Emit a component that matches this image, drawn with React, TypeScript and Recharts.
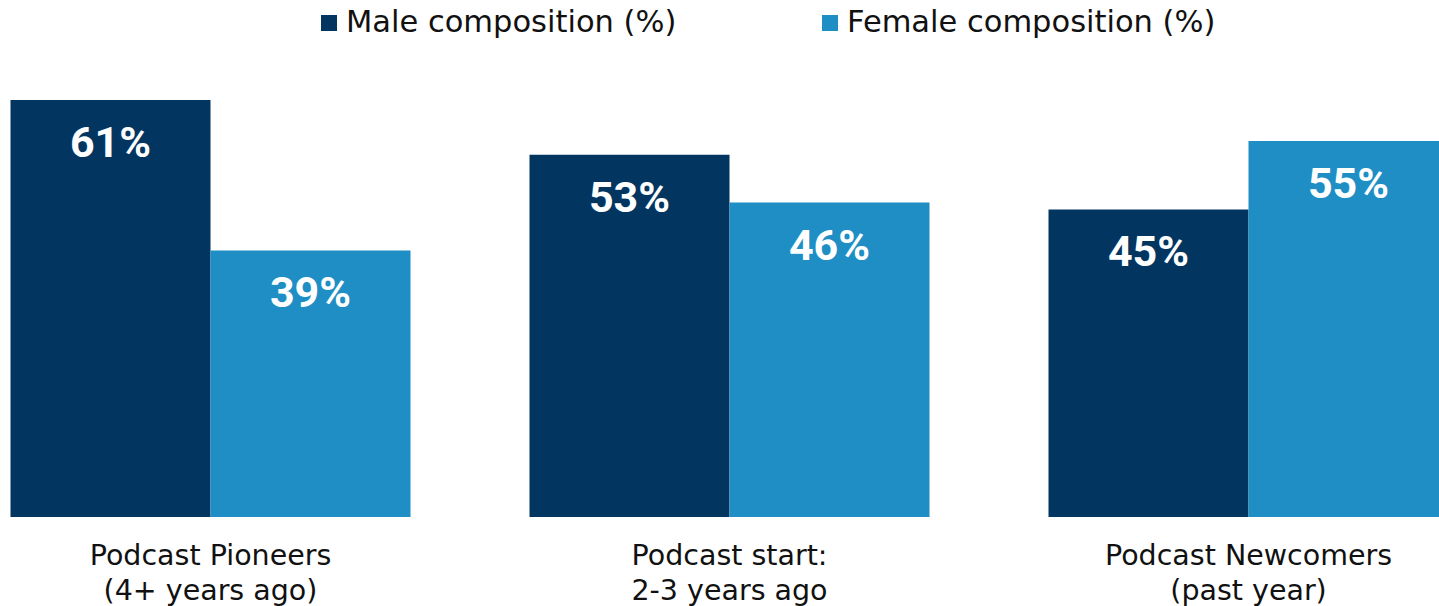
import React from "react";
import { BarChart, Bar, XAxis, YAxis, Legend, LabelList } from "recharts";

const categories = ["Podcast Pioneers\n(4+ years ago)", "Podcast start:\n2-3 years ago", "Podcast Newcomers\n(past year)"];
const maleValues = [61, 53, 45];
const femaleValues = [39, 46, 55];
const seriesNames = ["Male composition (%)", "Female composition (%)"];

const MALE = "#02355F";
const FEMALE = "#1F8EC5";
const FONT = "'DejaVu Sans', sans-serif";

const data = categories.map((c, i) => ({ category: c, male: maleValues[i], female: femaleValues[i] }));

const CategoryTick = (props: any) => {
  const { x, y, payload } = props;
  const lines = String(payload.value).split("\n");
  return (
    <g>
      {lines.map((l, i) => (
        <text key={i} x={x} y={y + 48 + i * 35} textAnchor="middle" fontFamily={FONT} fontSize={28.5} fill="#111">
          {l}
        </text>
      ))}
    </g>
  );
};

const ValueLabel = (props: any) => {
  const { x, y, width, value } = props;
  return (
    <text x={x + width / 2} y={y + 57} textAnchor="middle" fontFamily="Roboto, sans-serif" fontWeight={700} fontSize={43} fill="#fff">
      {value}%
    </text>
  );
};

const LegendContent = () => {
  const items = [
    { name: seriesNames[0], color: MALE, left: 321 },
    { name: seriesNames[1], color: FEMALE, left: 822 },
  ];
  return (
    <div style={{ position: "relative", width: 1439, height: 44, marginLeft: 49.5 }}>
      {items.map((it) => (
        <div key={it.name} style={{ position: "absolute", left: it.left, top: 0, height: 44, display: "flex", alignItems: "center", whiteSpace: "nowrap" }}>
          <div style={{ width: 16, height: 16, background: it.color, marginRight: 9, marginTop: 1 }} />
          <span style={{ fontFamily: FONT, fontSize: 30.5, color: "#111", lineHeight: "44px" }}>{it.name}</span>
        </div>
      ))}
    </div>
  );
};

export default function App() {
  return (
    <div style={{ position: "fixed", left: 0, top: 0, width: 1439, height: 606, overflow: "hidden", background: "#fff" }}>
      <div style={{ position: "absolute", left: -49.5, top: 0 }}>
        <BarChart
          width={1557}
          height={606}
          data={data}
          margin={{ top: 28.7, right: 0, bottom: 0, left: 0 }}
          barCategoryGap={59.5}
          barGap={0}
        >
          <XAxis dataKey="category" axisLine={false} tickLine={false} tickSize={0} tickMargin={0} height={89} interval={0} tick={<CategoryTick />} />
          <YAxis hide domain={[0, 65]} />
          <Legend
            verticalAlign="top"
            layout="horizontal"
            content={<LegendContent />}
            wrapperStyle={{ top: 0, left: 0, width: 1557, height: 44 }}
          />
          <Bar dataKey="male" name={seriesNames[0]} fill={MALE} isAnimationActive={false}>
            <LabelList dataKey="male" content={<ValueLabel />} />
          </Bar>
          <Bar dataKey="female" name={seriesNames[1]} fill={FEMALE} isAnimationActive={false}>
            <LabelList dataKey="female" content={<ValueLabel />} />
          </Bar>
        </BarChart>
      </div>
    </div>
  );
}
